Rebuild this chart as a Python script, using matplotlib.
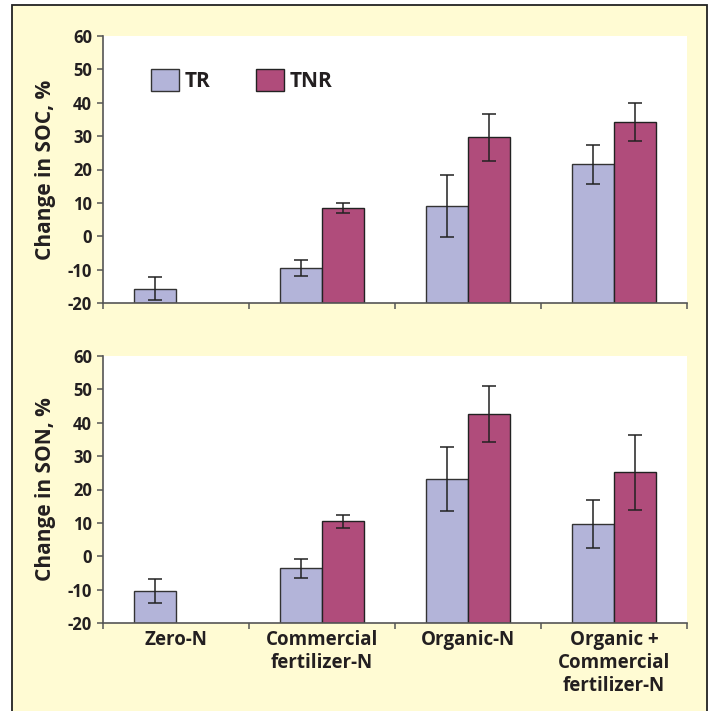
import numpy as np
import matplotlib
matplotlib.use('Agg')
import matplotlib.pyplot as plt
from matplotlib.patches import Rectangle

# data
categories = ['Zero-N', 'Commercial\nfertilizer-N', 'Organic-N', 'Organic +\nCommercial\nfertilizer-N']
soc_tr = [-15.7, -9.4, 9.0, 21.5]
soc_tr_err = [3.4, 2.4, 9.3, 5.7]
soc_tnr = [np.nan, 8.5, 29.6, 34.2]
soc_tnr_err = [np.nan, 1.4, 7.0, 5.7]
son_tr = [-10.4, -3.6, 23.1, 9.8]
son_tr_err = [3.6, 2.9, 9.5, 7.2]
son_tnr = [np.nan, 10.5, 42.7, 25.1]
son_tnr_err = [np.nan, 1.9, 8.4, 11.2]

yticks = [-20, -10, 0, 10, 20, 30, 40, 50, 60]
YMIN, YMAX = -20, 60

TR_COLOR = '#b3b4d9'
TNR_COLOR = '#b04c7b'
BG = '#fffbd3'
TXT = '#231f20'

plt.rcParams['font.family'] = ['Open Sans', 'DejaVu Sans']
plt.rcParams['font.weight'] = 'bold'

fig = plt.figure(figsize=(7.09, 7.11), dpi=100)
fig.patch.set_facecolor('white')
fig.patches.append(Rectangle((12 / 709, -0.02), 695 / 709, 1.02 - 5 / 711,
                             transform=fig.transFigure, facecolor=BG,
                             edgecolor='#222222', linewidth=1.3, zorder=-10))

ax1 = fig.add_axes([103 / 709, 1 - 303 / 711, 584 / 709, 267 / 711])
ax2 = fig.add_axes([103 / 709, 1 - 623 / 711, 584 / 709, 267 / 711])

x = np.arange(len(categories))
w = 0.29


def draw(ax, tr, tr_err, tnr, tnr_err, ylabel):
    ax.set_facecolor('white')
    # bars rise from the bottom of the value axis, as in the original
    ax.bar(x - w / 2, np.array(tr) - YMIN, w, bottom=YMIN, color=TR_COLOR,
           edgecolor='#333333', linewidth=1.0, label='TR', zorder=2)
    ax.bar(x + w / 2, np.array(tnr) - YMIN, w, bottom=YMIN, color=TNR_COLOR,
           edgecolor='#222222', linewidth=1.0, label='TNR', zorder=2)
    ax.errorbar(x - w / 2, tr, yerr=tr_err, fmt='none', ecolor='#222222',
                elinewidth=1.1, capsize=5, capthick=1.1, zorder=3)
    ax.errorbar(x + w / 2, tnr, yerr=tnr_err, fmt='none', ecolor='#222222',
                elinewidth=1.1, capsize=5, capthick=1.1, zorder=3)
    ax.set_ylim(YMIN, YMAX)
    ax.set_xlim(-0.5, len(categories) - 0.5)
    ax.set_yticks(yticks)
    ax.set_yticklabels([str(t) for t in yticks], fontsize=12, fontweight='bold', color=TXT)
    ax.set_xticks(np.arange(len(categories) + 1) - 0.5)
    ax.set_xticklabels([])
    ax.spines['top'].set_visible(False)
    ax.spines['right'].set_visible(False)
    for s in ['left', 'bottom']:
        ax.spines[s].set_color('#555555')
        ax.spines[s].set_linewidth(1.2)
    ax.tick_params(axis='both', direction='out', length=4, width=1.1, color='#555555', pad=4)
    ax.set_ylabel(ylabel, fontsize=15, fontweight='bold', color=TXT, labelpad=8)


draw(ax1, soc_tr, soc_tr_err, soc_tnr, soc_tnr_err, 'Change in SOC, %')
draw(ax2, son_tr, son_tr_err, son_tnr, son_tnr_err, 'Change in SON, %')

ax2.set_xticks(x, minor=True)
ax2.set_xticklabels(categories, minor=True, fontsize=13.5, fontweight='bold', color=TXT,
                    linespacing=1.2, va='top')
ax2.tick_params(axis='x', which='minor', length=0, pad=5)

leg = ax1.legend(loc='upper left', bbox_to_anchor=(0.05, 0.945), ncol=2, frameon=False,
                 fontsize=15, handlelength=1.35, handleheight=1.2, columnspacing=2.2,
                 handletextpad=0.25)
for t in leg.get_texts():
    t.set_fontweight('bold')
    t.set_color(TXT)

fig.savefig('out.png', dpi=100, facecolor=fig.get_facecolor())
